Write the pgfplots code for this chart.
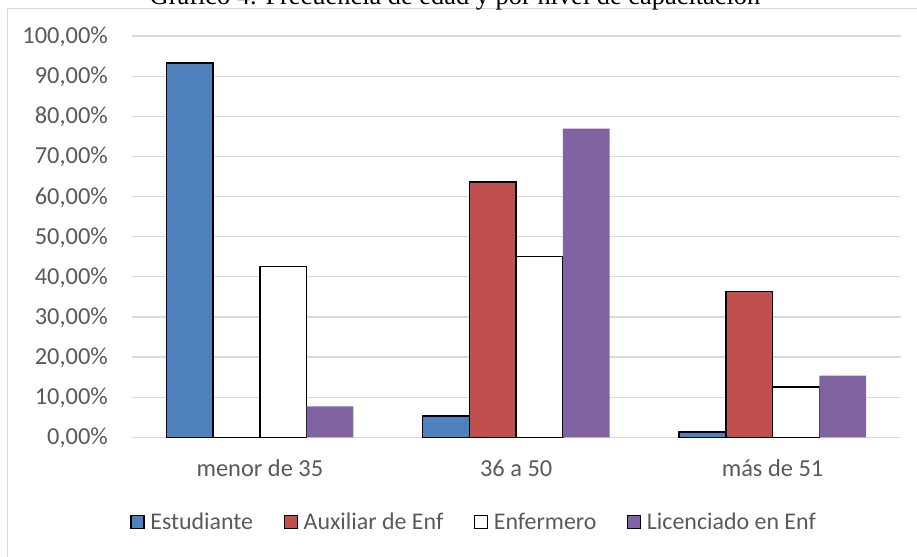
\documentclass[border=0pt]{standalone}
\usepackage{fontspec}
\setmainfont{Carlito}
\newfontfamily\titlefont{Liberation Serif}
\usepackage{pgfplots}
\pgfplotsset{compat=1.18}
\definecolor{cblue}{HTML}{4F81BD}
\definecolor{cred}{HTML}{C0504D}
\definecolor{cpurple}{HTML}{8064A2}
\definecolor{tickgray}{HTML}{595959}
\definecolor{gridgray}{HTML}{D9D9D9}
\begin{document}
\begin{tikzpicture}
  % chart frame (partly visible)
  \draw[gridgray, line width=1.5bp] (7.5bp,-20bp) -- (7.5bp,548.5bp) -- (940bp,548.5bp);
  \node[anchor=base, inner sep=0pt, font=\titlefont\fontsize{26.5}{27}\selectfont]
    at (455bp,552bp) {Gráfico 4. Frecuencia de edad y por nivel de capacitación};
\begin{axis}[
  at={(131.7bp,119.7bp)}, anchor=south west,
  scale only axis,
  width=769bp, height=401.3bp,
  ybar=0pt,
  bar width=46.75bp,
  xmin=-0.5, xmax=2.5,
  ymin=0, ymax=100,
  xtick={0,1,2},
  xticklabels={menor de 35, 36 a 50, más de 51},
  ytick={0,10,...,100},
  yticklabels={{0,00\%},{10,00\%},{20,00\%},{30,00\%},{40,00\%},{50,00\%},{60,00\%},{70,00\%},{80,00\%},{90,00\%},{100,00\%}},
  ymajorgrids,
  grid style={gridgray, line width=1.2bp},
  axis line style={draw=none},
  major tick length=0pt,
  tick label style={font=\fontsize{24.5}{25}\selectfont, text=tickgray, inner sep=0pt},
  yticklabel style={anchor=base east, xshift=-23.7bp, yshift=-7.6bp},
  xticklabel style={anchor=base, yshift=-39.4bp},
  legend columns=4,
  legend style={at={(-0.002,-0.211)}, anchor=west, draw=none, fill=none, inner sep=0pt,
    font=\fontsize{24}{25}\selectfont, text=tickgray,
    nodes={inner xsep=2.5bp},
    /tikz/every odd column/.append style={column sep=3bp},
    /tikz/every even column/.append style={column sep=28bp}},
  legend cell align=left,
  legend image code/.code={\draw[#1, line width=1.5bp] (0bp,-6.5bp) rectangle (13bp,6.5bp);},
]
\addplot[fill=cblue, draw=black, line width=1.5bp] coordinates {(0,93.33) (1,5.33) (2,1.33)};
\addplot[fill=cred, draw=black, line width=1.5bp] coordinates {(0,0) (1,63.64) (2,36.36)};
\addplot[fill=white, draw=black, line width=1.5bp] coordinates {(0,42.5) (1,45) (2,12.5)};
\addplot[fill=cpurple, draw=none] coordinates {(0,7.69) (1,76.92) (2,15.38)};
\legend{Estudiante, Auxiliar de Enf, Enfermero, Licenciado en Enf}
\end{axis}
\pgfresetboundingbox
\path[use as bounding box] (0,0) rectangle (917bp,557bp);
\end{tikzpicture}
\end{document}
